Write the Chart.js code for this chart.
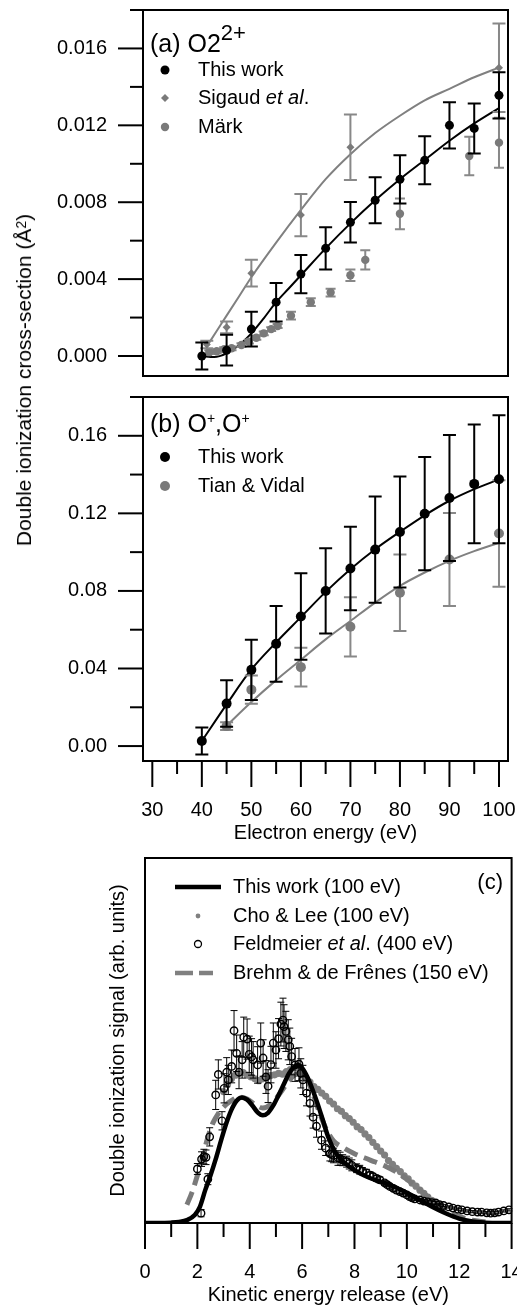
<!DOCTYPE html>
<html><head><meta charset="utf-8">
<script src="https://cdn.jsdelivr.net/npm/chart.js@4.4.1/dist/chart.umd.min.js"></script>
<style>
html,body{margin:0;padding:0;background:#fff;}
#wrap{position:relative;width:517px;height:1307px;overflow:hidden;font-family:'Liberation Sans',Arial,sans-serif;}
.box{position:absolute;left:0;width:517px;}
#ytitle{position:absolute;left:24px;top:380px;transform:translate(-50%,-50%) rotate(-90deg);white-space:nowrap;font-size:21px;line-height:24px;color:#000;}
#ytitle sup{font-size:14px;vertical-align:top;position:relative;top:-3px;}
</style></head><body>
<div id="wrap">
<div class="box" style="top:0;height:385px"><canvas id="ca" width="517" height="385"></canvas></div>
<div class="box" style="top:385px;height:465px"><canvas id="cb" width="517" height="465"></canvas></div>
<div class="box" style="top:850px;height:457px"><canvas id="cc" width="517" height="457"></canvas></div>
<div id="ytitle">Double ionization cross-section (Å<sup>2</sup>)</div>
</div>
<script>
// ---------------- DATA ----------------
// Panel (a) O2 2+
const aEnergy = [40,45,50,55,60,65,70,75,80,85,90,95,100];
const aThisWork = [0.0000,0.0003,0.0014,0.0028,0.00426,0.0056,0.00696,0.0081,0.00919,0.01018,0.0120,0.01184,0.01356];
const aThisWorkErr = [0.0007,0.0008,0.0009,0.0010,0.0010,0.0011,0.00105,0.0012,0.00125,0.00125,0.0012,0.0013,0.0012];
const aFitEnergy = [40,42.5,45,47.5,50,52.5,55,57.5,60,65,70,75,80,85,90,95,100];
const aFitThisWork = [0,-0.00005,0.00014,0.00056,0.00118,0.00196,0.0028,0.0035,0.0042,0.0056,0.0069,0.0081,0.0092,0.0102,0.0112,0.0121,0.0129];
const sigaudEnergy = [41,45,50,60,70,100];
const sigaud = [0.0006,0.00149,0.00431,0.00733,0.01086,0.0150];
const sigaudErr = [0.0002,0.0003,0.0007,0.0011,0.0017,0.0023];
const sigaudFitEnergy = [41,43,45,47.5,50,55,60,65,70,75,80,85,90,95,100];
const sigaudFit = [0.0005,0.0013,0.0021,0.0031,0.0041,0.0059,0.0076,0.0092,0.0105,0.0116,0.0125,0.0133,0.0139,0.0145,0.0150];
const markEnergy = [41.5,43,44.5,46,48,49.5,51,52.5,54,55.3,58,62,66,70,73,80,94,100];
const mark = [0.0002,0.00025,0.00035,0.0004,0.00057,0.00075,0.00095,0.00118,0.0014,0.00156,0.0021,0.0028,0.0033,0.0042,0.0050,0.0074,0.0104,0.0111];
const markErr = [0.0001,0.0001,0.0001,0.0001,0.0001,0.0001,0.0001,0.0001,0.0001,0.0001,0.0002,0.0002,0.0002,0.0003,0.0005,0.0008,0.0010,0.0013];
const aTickValues = [0,0.004,0.008,0.012,0.016];
const aTickLabels = ['0.000','0.004','0.008','0.012','0.016'];
const aMinorTicks = [0.002,0.006,0.010,0.014,0.018];

// Panel (b) O+,O+
const bEnergy = [40,45,50,55,60,65,70,75,80,85,90,95,100];
const bThisWork = [0.0026,0.0219,0.0393,0.0527,0.0668,0.0800,0.0916,0.1013,0.1104,0.1198,0.1279,0.1352,0.1376];
const bThisWorkErr = [0.007,0.012,0.0155,0.0195,0.0223,0.022,0.0215,0.0274,0.0286,0.0292,0.0325,0.0306,0.033];
const bFitEnergy = [40,45,50,55,60,65,70,75,80,85,90,95,100];
const bFitThisWork = [0.0026,0.0215,0.0395,0.0535,0.0665,0.0795,0.0912,0.1015,0.1105,0.119,0.1265,0.1325,0.1375];
const tianEnergy = [45,50,60,70,80,90,100];
const tian = [0.0103,0.0291,0.0407,0.0615,0.0791,0.0962,0.1096];
const tianErr = [0.002,0.0073,0.010,0.0153,0.0197,0.024,0.0275];
const tianFitEnergy = [45,50,55,60,65,70,75,80,85,90,95,100];
const tianFit = [0.0105,0.0227,0.034,0.0445,0.055,0.0645,0.074,0.0826,0.0895,0.0955,0.1005,0.1048];
const bTickValues = [0,0.04,0.08,0.12,0.16];
const bTickLabels = ['0.00','0.04','0.08','0.12','0.16'];
const bMinorTicks = [0.02,0.06,0.10,0.14,0.18];
const eTickValues = [30,40,50,60,70,80,90,100];
const eTickLabels = ['30','40','50','60','70','80','90','100'];
const eMinorTicks = [35,45,55,65,75,85,95];

// Panel (c) KER
const kerEnergy = [0,0.5,1.0,1.3,1.6,1.9,2.1,2.3,2.5,2.7,2.9,3.1,3.3,3.5,3.7,3.9,4.1,4.3,4.5,4.7,4.9,5.1,5.3,5.5,5.7,5.85,6.0,6.2,6.4,6.6,6.8,7.0,7.3,7.6,8.0,8.5,9.0,9.5,10.0,10.5,11.0,11.5,12.0,12.5,13.0,13.5,14];
const kerThisWork = [0,0,0.001,0.003,0.008,0.022,0.045,0.09,0.13,0.175,0.225,0.272,0.31,0.335,0.344,0.338,0.322,0.303,0.295,0.302,0.322,0.35,0.38,0.41,0.428,0.433,0.425,0.40,0.365,0.325,0.28,0.235,0.19,0.166,0.145,0.126,0.113,0.10,0.082,0.063,0.043,0.026,0.012,0.004,0.001,0,0];
const choEnergy = [3.0,3.15,3.3,3.45,3.6,3.75,3.9,4.05,4.2,4.35,4.5,4.65,4.8,4.95,5.1,5.25,5.4,5.55,5.7,5.85,6.0,6.15,6.3,6.45,6.6,6.75,6.9,7.05,7.2,7.35,7.5,7.65,7.8,7.95,8.1,8.25,8.4,8.55,8.7,8.85,9.0,9.15,9.3,9.45,9.6,9.75,9.9,10.05,10.2,10.35,10.5,10.65,10.8,10.95,11.1,11.25];
const cho = [0.36,0.38,0.395,0.405,0.41,0.412,0.405,0.40,0.395,0.39,0.395,0.40,0.404,0.406,0.41,0.408,0.415,0.42,0.426,0.424,0.41,0.395,0.386,0.374,0.366,0.356,0.347,0.334,0.326,0.313,0.306,0.294,0.286,0.276,0.264,0.256,0.244,0.234,0.221,0.209,0.197,0.186,0.171,0.161,0.150,0.141,0.129,0.121,0.109,0.101,0.090,0.081,0.071,0.062,0.055,0.047];
const feldEnergy = [2.0,2.14,2.16,2.25,2.33,2.4,2.47,2.7,2.8,2.94,3.02,3.12,3.18,3.31,3.4,3.5,3.59,3.71,3.77,3.9,3.98,4.07,4.13,4.3,4.42,4.51,4.62,4.7,4.81,4.9,5.0,5.1,5.19,5.27,5.31,5.38,5.47,5.53,5.6,5.73,5.88,5.95,6.03,6.17,6.3,6.42,6.55,6.74,6.9,7.06,7.13,7.2,7.37,7.45,7.55,7.7,7.8,7.9,8.08,8.2,8.3,8.46,8.6,8.7,8.85,8.97,9.15,9.25,9.35,9.48,9.6,9.73,9.86,10.0,10.1,10.2,10.3,10.5,10.65,10.8,10.95,11.1,11.25,11.4,11.6,11.76,11.95,12.1,12.3,12.5,12.7,12.85,13.05,13.2,13.35,13.5,13.7,13.9];
const feld = [0.148,0.027,0.175,0.182,0.18,0.12,0.236,0.351,0.407,0.28,0.369,0.413,0.392,0.429,0.527,0.465,0.413,0.447,0.509,0.504,0.462,0.455,0.447,0.433,0.493,0.452,0.40,0.375,0.434,0.493,0.474,0.505,0.545,0.556,0.538,0.525,0.502,0.484,0.456,0.433,0.435,0.41,0.392,0.356,0.328,0.29,0.265,0.227,0.205,0.19,0.188,0.185,0.178,0.176,0.172,0.168,0.163,0.158,0.15,0.146,0.142,0.137,0.131,0.128,0.122,0.118,0.11,0.105,0.10,0.095,0.09,0.086,0.082,0.077,0.072,0.069,0.066,0.063,0.06,0.058,0.056,0.055,0.05,0.048,0.044,0.041,0.038,0.036,0.033,0.031,0.03,0.03,0.028,0.027,0.028,0.03,0.033,0.036];
const feldErr = [0.015,0.01,0.02,0.02,0.02,0.015,0.025,0.04,0.04,0.025,0.04,0.04,0.04,0.045,0.055,0.05,0.045,0.05,0.055,0.055,0.05,0.05,0.05,0.05,0.055,0.05,0.045,0.045,0.05,0.055,0.05,0.055,0.06,0.06,0.06,0.055,0.055,0.05,0.05,0.045,0.045,0.04,0.04,0.035,0.035,0.03,0.03,0.025,0.02,0.02,0.02,0.02,0.02,0.018,0.015,0.015,0.015,0.015,0.012,0.012,0.01,0.01,0.009,0.008,0.008,0.008,0.006,0.006,0.006,0.005,0.005,0.005,0.005,0.004,0.004,0.004,0.004,0.004,0.004,0.004,0.004,0.004,0.003,0.003,0.003,0.003,0.003,0.003,0.003,0.003,0.003,0.003,0.003,0.003,0.003,0.003,0.003,0.003];
const brehmEnergy = [1.6,1.8,2.0,2.2,2.4,2.6,2.8,3.0,3.3,3.6,3.9,4.2,4.5,4.8,5.1,5.4,5.7,6.0,6.3,6.6,6.9,7.2,7.6,8.0,8.4,8.8,9.2,9.6,10.0,10.4,10.8,11.2,11.6,12.0,12.5,13.0];
const brehm = [0.05,0.085,0.13,0.18,0.235,0.275,0.30,0.318,0.335,0.345,0.34,0.325,0.315,0.325,0.35,0.38,0.405,0.41,0.375,0.315,0.26,0.225,0.205,0.19,0.178,0.167,0.155,0.14,0.12,0.097,0.072,0.05,0.032,0.018,0.008,0.003];
const kTickValues = [0,2,4,6,8,10,12,14];
const kTickLabels = ['0','2','4','6','8','10','12','14'];
const kMinorTicks = [1,3,5,7,9,11,13];

// ---------------- HELPERS ----------------
const FAM = "'Liberation Sans', Arial, sans-serif";
Chart.defaults.font.family = FAM;
Chart.defaults.font.size = 20;
Chart.defaults.color = '#000';
const GREY = '#7a7a7a';
const pts = (xs, ys) => xs.map((x, i) => ({x, y: ys[i]}));

function tickSetup(major, labels, minor) {
  return {
    afterBuildTicks(axis) { axis.ticks = major.concat(minor).sort((a,b)=>a-b).map(v => ({value: v})); },
    callback(value) { const i = major.findIndex(m => Math.abs(m - value) < 1e-9); return i >= 0 ? labels[i] : ''; }
  };
}

const axisDeco = {
  id: 'axisDeco',
  afterDraw(chart, args, o) {
    const {ctx, chartArea: a} = chart;
    ctx.save(); ctx.strokeStyle = '#000'; ctx.lineWidth = 2;
    ctx.strokeRect(a.left, a.top, a.right - a.left, a.bottom - a.top);
    (o.ticks || []).forEach(t => {
      const sc = chart.scales[t.axis];
      const draw = (v, len) => {
        const p = sc.getPixelForValue(v);
        ctx.beginPath();
        if (sc.isHorizontal()) { ctx.moveTo(p, a.bottom); ctx.lineTo(p, a.bottom + len); }
        else { ctx.moveTo(a.left, p); ctx.lineTo(a.left - len, p); }
        ctx.stroke();
      };
      t.major.forEach(v => draw(v, t.majorLen));
      t.minor.forEach(v => draw(v, t.minorLen));
    });
    ctx.restore();
  }
};

const errBars = {
  id: 'errBars',
  beforeDatasetDraw(chart, args) {
    const ds = chart.data.datasets[args.index];
    if (!ds.err) return;
    const meta = args.meta, ys = chart.scales[meta.yAxisID], ctx = chart.ctx;
    ctx.save(); ctx.strokeStyle = ds.errColor; ctx.lineWidth = ds.errWidth;
    meta.data.forEach((pt, i) => {
      const v = ds.data[i].y, e = ds.err[i];
      const x = pt.x, y1 = ys.getPixelForValue(v + e), y2 = ys.getPixelForValue(v - e), c = ds.cap;
      ctx.beginPath();
      ctx.moveTo(x, y1); ctx.lineTo(x, y2);
      ctx.moveTo(x - c, y1); ctx.lineTo(x + c, y1);
      ctx.moveTo(x - c, y2); ctx.lineTo(x + c, y2);
      ctx.stroke();
    });
    ctx.restore();
  }
};

function drawMarker(ctx, m, x, y) {
  ctx.save();
  ctx.fillStyle = m.fill || 'transparent'; ctx.strokeStyle = m.stroke || 'transparent';
  ctx.lineWidth = m.lw || 1;
  ctx.beginPath();
  if (m.type === 'circle') { ctx.arc(x, y, m.r, 0, Math.PI * 2); if (m.fill) ctx.fill(); if (m.stroke) ctx.stroke(); }
  else if (m.type === 'diamond') { ctx.moveTo(x, y - m.r); ctx.lineTo(x + m.r, y); ctx.lineTo(x, y + m.r); ctx.lineTo(x - m.r, y); ctx.closePath(); ctx.fill(); }
  else if (m.type === 'line') { ctx.setLineDash(m.dash || []); ctx.moveTo(m.x1, y); ctx.lineTo(m.x2, y); ctx.stroke(); }
  ctx.restore();
}

const texts = {
  id: 'texts',
  afterDraw(chart, args, o) {
    const ctx = chart.ctx;
    (o.items || []).forEach(it => {
      ctx.save();
      if (it.marker) drawMarker(ctx, it.marker, it.mx, it.y);
      ctx.textBaseline = it.baseline || 'middle';
      let x = it.x;
      if (it.align === 'right') {
        let w = 0; it.parts.forEach(p => { ctx.font = p.font; w += ctx.measureText(p.t).width; }); x -= w;
      }
      it.parts.forEach(p => {
        ctx.font = p.font; ctx.fillStyle = p.color || '#000';
        ctx.fillText(p.t, x, it.y + (p.dy || 0));
        x += ctx.measureText(p.t).width;
      });
      ctx.restore();
    });
  }
};

const F20 = '20px ' + FAM, F20I = 'italic 20px ' + FAM, F25 = '25px ' + FAM;

function yAxis(min, max, major, labels, minor) {
  const t = tickSetup(major, labels, minor);
  return {
    type: 'linear', min, max,
    afterBuildTicks: t.afterBuildTicks,
    afterFit(s) { s.width = 143; s.paddingTop = 0; s.paddingBottom = 0; },
    ticks: {callback: t.callback, padding: 36, autoSkip: false, font: {size: 20}},
    grid: {display: false, drawTicks: false}, border: {display: false}
  };
}

const common = {responsive: false, animation: false, events: []};

// ---------------- PANEL A ----------------
new Chart(document.getElementById('ca'), {
  type: 'scatter',
  data: {datasets: [
    {label: 'This work', data: pts(aEnergy, aThisWork), err: aThisWorkErr, errColor: '#000', errWidth: 2, cap: 6.5,
     pointRadius: 4.5, pointBackgroundColor: '#000', pointBorderWidth: 0},
    {label: 'Sigaud et al.', data: pts(sigaudEnergy, sigaud), err: sigaudErr, errColor: '#888', errWidth: 2, cap: 6.5,
     pointStyle: 'rectRot', pointRadius: 4, pointBackgroundColor: GREY, pointBorderWidth: 0},
    {label: 'Märk', data: pts(markEnergy, mark), err: markErr, errColor: '#888', errWidth: 2, cap: 5,
     pointRadius: 4.2, pointBackgroundColor: GREY, pointBorderWidth: 0},
    {label: 'fit this work', data: pts(aFitEnergy, aFitThisWork), showLine: true, pointRadius: 0, borderColor: '#000', borderWidth: 2, cubicInterpolationMode: 'monotone'},
    {label: 'fit Sigaud', data: pts(sigaudFitEnergy, sigaudFit), showLine: true, pointRadius: 0, borderColor: '#808080', borderWidth: 2, cubicInterpolationMode: 'monotone'}
  ]},
  options: Object.assign({}, common, {
    layout: {padding: {left: 0, right: 9, top: 10, bottom: 9}},
    scales: {
      x: {type: 'linear', min: 28.12, max: 101.82, display: false},
      y: yAxis(-0.00104, 0.018, aTickValues, aTickLabels, aMinorTicks)
    },
    plugins: {
      legend: {display: false}, tooltip: {enabled: false},
      axisDeco: {ticks: [{axis: 'y', major: aTickValues, minor: aMinorTicks, majorLen: 25, minorLen: 13}]},
      texts: {items: [
        {x: 150, y: 52, baseline: 'alphabetic', parts: [{t: '(a) O2', font: F25}, {t: '2+', font: '22px ' + FAM, dy: -12}]},
        {x: 198, y: 70, mx: 165, marker: {type: 'circle', r: 4.5, fill: '#000'}, parts: [{t: 'This work', font: F20}]},
        {x: 198, y: 98, mx: 165, marker: {type: 'diamond', r: 4, fill: GREY}, parts: [{t: 'Sigaud ', font: F20}, {t: 'et al', font: F20I}, {t: '.', font: F20}]},
        {x: 198, y: 127, mx: 165, marker: {type: 'circle', r: 4.2, fill: GREY}, parts: [{t: 'Märk', font: F20}]}
      ]}
    }
  }),
  plugins: [errBars, axisDeco, texts]
});

// ---------------- PANEL B ----------------
const eT = tickSetup(eTickValues, eTickLabels, eMinorTicks);
new Chart(document.getElementById('cb'), {
  type: 'scatter',
  data: {datasets: [
    {label: 'This work', data: pts(bEnergy, bThisWork), err: bThisWorkErr, errColor: '#000', errWidth: 2, cap: 6.5,
     pointRadius: 5, pointBackgroundColor: '#000', pointBorderWidth: 0},
    {label: 'Tian & Vidal', data: pts(tianEnergy, tian), err: tianErr, errColor: '#888', errWidth: 2, cap: 6.5,
     pointRadius: 5, pointBackgroundColor: GREY, pointBorderWidth: 0},
    {label: 'fit this work', data: pts(bFitEnergy, bFitThisWork), showLine: true, pointRadius: 0, borderColor: '#000', borderWidth: 2, cubicInterpolationMode: 'monotone'},
    {label: 'fit Tian', data: pts(tianFitEnergy, tianFit), showLine: true, pointRadius: 0, borderColor: '#808080', borderWidth: 2, cubicInterpolationMode: 'monotone'}
  ]},
  options: Object.assign({}, common, {
    layout: {padding: {left: 0, right: 9, top: 12, bottom: 0}},
    scales: {
      x: {type: 'linear', min: 28.12, max: 101.82,
        afterBuildTicks: eT.afterBuildTicks,
        afterFit(s) { s.height = 89; s.paddingLeft = 0; s.paddingRight = 0; },
        ticks: {callback: eT.callback, padding: 37, autoSkip: false, maxRotation: 0, font: {size: 20}},
        grid: {display: false, drawTicks: false}, border: {display: false},
        title: {display: true, text: 'Electron energy (eV)', font: {size: 20}, padding: {top: 0, bottom: 5}}},
      y: yAxis(-0.0077, 0.18, bTickValues, bTickLabels, bMinorTicks)
    },
    plugins: {
      legend: {display: false}, tooltip: {enabled: false},
      axisDeco: {ticks: [
        {axis: 'y', major: bTickValues, minor: bMinorTicks, majorLen: 25, minorLen: 13},
        {axis: 'x', major: eTickValues, minor: eMinorTicks, majorLen: 26, minorLen: 13}]},
      texts: {items: [
        {x: 150, y: 47, baseline: 'alphabetic', parts: [{t: '(b) O', font: F25}, {t: '+', font: '14px ' + FAM, dy: -9}, {t: ',O', font: F25}, {t: '+', font: '14px ' + FAM, dy: -9}]},
        {x: 198, y: 72, mx: 165, marker: {type: 'circle', r: 5, fill: '#000'}, parts: [{t: 'This work', font: F20}]},
        {x: 198, y: 101, mx: 165, marker: {type: 'circle', r: 5, fill: GREY}, parts: [{t: 'Tian & Vidal', font: F20}]}
      ]}
    }
  }),
  plugins: [errBars, axisDeco, texts]
});

// ---------------- PANEL C ----------------
const kT = tickSetup(kTickValues, kTickLabels, kMinorTicks);
new Chart(document.getElementById('cc'), {
  type: 'scatter',
  data: {datasets: [
    {label: 'Feldmeier et al. (400 eV)', data: pts(feldEnergy, feld), err: feldErr, errColor: '#000', errWidth: 1, cap: 3.5,
     pointRadius: 3.7, pointBackgroundColor: 'rgba(0,0,0,0)', pointBorderColor: '#000', pointBorderWidth: 1.4},
    {label: 'This work (100 eV)', data: pts(kerEnergy, kerThisWork), showLine: true, pointRadius: 0, borderColor: '#000', borderWidth: 4.5, cubicInterpolationMode: 'monotone'},
    {label: 'Brehm & de Frênes (150 eV)', data: pts(brehmEnergy, brehm), showLine: true, pointRadius: 0, borderColor: '#7a7a7a', borderWidth: 5, borderDash: [14, 7], cubicInterpolationMode: 'monotone'},
    {label: 'Cho & Lee (100 eV)', data: pts(choEnergy, cho), pointRadius: 3.6, pointBackgroundColor: '#808080', pointBorderWidth: 0}
  ]},
  options: Object.assign({}, common, {
    layout: {padding: {left: 0, right: 5, top: 8, bottom: 0}},
    scales: {
      x: {type: 'linear', min: 0, max: 14,
        afterBuildTicks: kT.afterBuildTicks,
        afterFit(s) { s.height = 84; s.paddingLeft = 0; s.paddingRight = 0; },
        ticks: {callback: kT.callback, padding: 37, autoSkip: false, maxRotation: 0, font: {size: 20}},
        grid: {display: false, drawTicks: false}, border: {display: false},
        title: {display: true, text: 'Kinetic energy release (eV)', font: {size: 20}, padding: {top: 0, bottom: 0}}},
      y: {type: 'linear', min: 0, max: 1,
        afterFit(s) { s.width = 145; s.paddingTop = 0; s.paddingBottom = 0; },
        ticks: {display: false}, grid: {display: false, drawTicks: false}, border: {display: false},
        title: {display: true, text: 'Double ionization signal (arb. units)', font: {size: 20}, padding: {top: 106, bottom: 0}}}
    },
    plugins: {
      legend: {display: false}, tooltip: {enabled: false},
      axisDeco: {ticks: [{axis: 'x', major: kTickValues, minor: kMinorTicks, majorLen: 26, minorLen: 14}]},
      texts: {items: [
        {x: 233, y: 37, mx: 0, marker: {type: 'line', x1: 175, x2: 221, stroke: '#000', lw: 4.5}, parts: [{t: 'This work (100 eV)', font: F20}]},
        {x: 233, y: 66, mx: 198, marker: {type: 'circle', r: 2.4, fill: '#808080'}, parts: [{t: 'Cho & Lee (100 eV)', font: F20}]},
        {x: 233, y: 94, mx: 198, marker: {type: 'circle', r: 3.5, stroke: '#000', lw: 1.3}, parts: [{t: 'Feldmeier ', font: F20}, {t: 'et al', font: F20I}, {t: '. (400 eV)', font: F20}]},
        {x: 233, y: 123, mx: 0, marker: {type: 'line', x1: 175, x2: 213, stroke: '#808080', lw: 4.5, dash: [18, 6]}, parts: [{t: 'Brehm & de Frênes (150 eV)', font: F20}]},
        {x: 503, y: 33, align: 'right', parts: [{t: '(c)', font: '22px ' + FAM}]}
      ]}
    }
  }),
  plugins: [errBars, axisDeco, texts]
});
</script>
</body></html>
